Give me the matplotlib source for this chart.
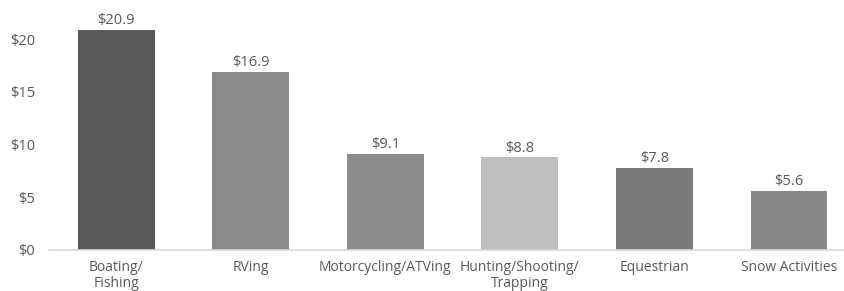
import matplotlib.pyplot as plt

categories = ["Boating/\nFishing", "RVing", "Motorcycling/ATVing",
              "Hunting/Shooting/\nTrapping", "Equestrian", "Snow Activities"]
values = [20.9, 16.9, 9.1, 8.8, 7.8, 5.6]
colors = ["#595959", "#8a8a8a", "#8c8c8c", "#bfbfbf", "#7a7a7a", "#878787"]
yticks = [0, 5, 10, 15, 20]

plt.rcParams['font.family'] = ['Open Sans', 'DejaVu Sans']
text_color = "#595959"

fig = plt.figure(figsize=(8.44, 2.91), dpi=100)
ax = fig.add_axes([49 / 844, 41 / 291, (844 - 49) / 844, 232 / 291])

x = range(len(values))
bars = ax.bar(x, values, width=0.57, color=colors)
for b, v in zip(bars, values):
    ax.text(b.get_x() + b.get_width() / 2, v + 0.15, f"${v:.1f}",
            ha="center", va="bottom", fontsize=10.5, color=text_color)

ax.set_xlim(-0.5, 5.41)
ax.set_ylim(0, 22)
ax.set_yticks(yticks)
ax.set_yticklabels([f"${t}" for t in yticks], fontsize=10.5)
ax.set_xticks(list(x))
ax.set_xticklabels(categories, linespacing=1.1, fontsize=10)
ax.tick_params(axis="both", length=0, colors=text_color)
ax.tick_params(axis="y", pad=10)
ax.tick_params(axis="x", pad=7)

for s in ["top", "right", "left"]:
    ax.spines[s].set_visible(False)
ax.spines["bottom"].set_color("#d9d9d9")
ax.spines["bottom"].set_linewidth(1.2)

fig.savefig("out.png", dpi=100)
